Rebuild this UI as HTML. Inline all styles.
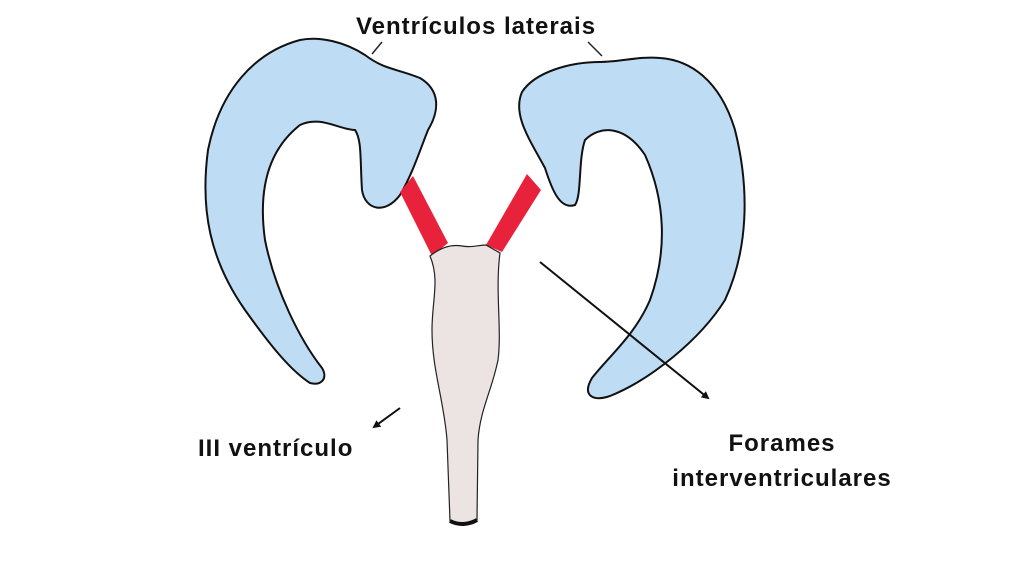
<!DOCTYPE html>
<html><head><style>
html,body{margin:0;padding:0;background:#fff;}
svg{display:block;}
text{font-family:"Liberation Sans",sans-serif;font-weight:bold;fill:#111;letter-spacing:1px;}
</style></head><body>
<svg width="1024" height="576" viewBox="0 0 1024 576" xmlns="http://www.w3.org/2000/svg">
<defs><marker id="a" markerWidth="8" markerHeight="8" refX="6" refY="4" orient="auto" markerUnits="userSpaceOnUse"><path d="M0,0 L8,4 L0,8 Z" fill="#111"/></marker></defs>
<path d="M300,40 C255,52 220,90 208,150 C200,210 210,260 245,310 C270,345 290,370 310,383 C322,386 328,378 322,368 C300,340 275,290 265,240 C258,190 268,150 300,125 C320,115 340,130 355,130 C362,140 360,160 362,190 C365,210 385,215 400,195 C412,175 420,150 428,130 C440,110 440,90 420,78 C395,68 385,70 365,55 C345,42 320,36 300,40 Z" fill="#bfdcf5" stroke="#111" stroke-width="2"/>
<path d="M600,62 C570,62 535,72 522,92 C512,115 530,140 545,168 C552,190 560,210 575,205 C582,195 578,160 585,140 C600,125 625,125 645,155 C665,200 668,250 650,300 C635,335 610,355 592,378 C582,395 592,402 610,396 C650,380 700,340 725,300 C748,250 750,190 735,130 C720,80 690,60 660,58 C640,56 620,62 600,62 Z" fill="#bfdcf5" stroke="#111" stroke-width="2"/>
<path d="M400,192 L413,176 L448,243 L432,256 Z" fill="#e8223a"/>
<path d="M527,174 L541,190 L502,252 L486,245 Z" fill="#e8223a"/>
<path d="M430,256 C440,248 450,244 462,246 C472,248 478,245 486,245 L500,253 C495,290 502,330 498,360 C492,390 480,410 478,440 L477,520 C470,524 458,525 450,521 L447,440 C444,400 432,370 432,330 C432,300 440,280 430,256 Z" fill="#ece3e3" stroke="#222" stroke-width="1.2"/>
<path d="M450,521 C460,526 470,524 477,520" stroke="#111" stroke-width="4" fill="none"/>
<line x1="382" y1="42" x2="372" y2="54" stroke="#222" stroke-width="1.5"/>
<line x1="588" y1="42" x2="602" y2="56" stroke="#222" stroke-width="1.5"/>
<line x1="400" y1="408" x2="374" y2="427" stroke="#111" stroke-width="2" marker-end="url(#a)"/>
<line x1="540" y1="262" x2="708" y2="398" stroke="#111" stroke-width="2" marker-end="url(#a)"/>
<text x="476" y="34" font-size="24" text-anchor="middle">Ventrículos laterais</text>
<text x="198" y="456" font-size="24">III ventrículo</text>
<text x="782" y="451" font-size="24" text-anchor="middle">Forames</text>
<text x="782" y="486" font-size="24" text-anchor="middle">interventriculares</text>
</svg>
</body></html>
